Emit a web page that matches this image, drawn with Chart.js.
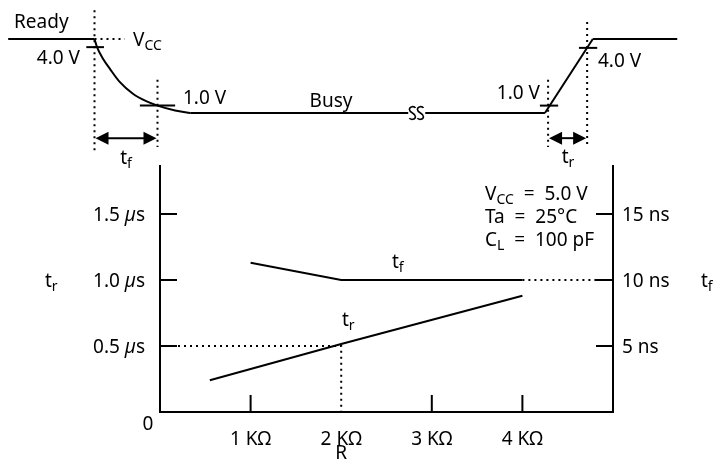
<!DOCTYPE html>
<html>
<head>
<meta charset="utf-8">
<script src="https://cdn.jsdelivr.net/npm/chart.js@4.4.1/dist/chart.umd.min.js"></script>
<style>
html, body { margin: 0; padding: 0; background: #fff; }
#wrap { position: relative; width: 727px; height: 464px; }
canvas { position: absolute; left: 0; top: 0; }
</style>
</head>
<body>
<div id="wrap">
  <canvas id="resChart" width="727" height="464"></canvas>
  <canvas id="waveChart" width="727" height="175"></canvas>
</div>
<script>
// ---- switching time vs pull-up R ----
const rTicks = [1, 2, 3, 4];
const rLabels = ['1 KΩ', '2 KΩ', '3 KΩ', '4 KΩ'];
const usTicks = [0.5, 1.0, 1.5];
const usLabels = ['0.5', '1.0', '1.5'];
const nsTicks = [5, 10, 15];
const nsLabels = ['5 ns', '10 ns', '15 ns'];

const trR = [0.55, 2.0, 4.0];      // KΩ
const trUs = [0.24, 0.515, 0.88];  // µs (left axis)
const tfR = [1.0, 2.0, 4.0];
const tfNs = [11.3, 10.0, 10.0];   // ns (right axis)
const tfExtR = [4.0, 5.0];
const tfExtNs = [10.0, 10.0];
const guideR = [0, 2, 2];
const guideUs = [0.5, 0.5, 0];

// ---- Ready/Busy waveform (time units, level 0 = low, 1 = high) ----
const highT = [1.3, 15.0];
const highL = [1, 1];
const fallT = [15.0, 15.4, 16.3, 17.5, 19.0, 21.1, 23.2, 25.0, 27.8, 30.2];
const fallL = [1.0, 0.89, 0.74, 0.59, 0.42, 0.26, 0.16, 0.10, 0.034, 0];
const busyT1 = [30.2, 64.8];
const busyT2 = [67.5, 86.5];
const busyL = [0, 0];
const riseT = [86.5, 94.1];
const riseL = [0, 1];
const readyT = [94.1, 107.5];
const readyL = [1, 1];
const markT = [[13.7, 16.5], [22.2, 27.8], [85.7, 88.6], [91.9, 94.8]];
const markL = [0.89, 0.10, 0.10, 0.88];
const edgeT = [15.0, 25.0, 87.0, 93.2];
const edgeTop = [1.39, 0.45, 0.45, 1.23];
const edgeBottom = [-0.54, -0.46, -0.46, -0.46];
const vccT = [15.0, 19.8];
const arrowL = -0.34;
const breakT = 66.1;

const FONT = '"Noto Sans", "DejaVu Sans", sans-serif';

function pts(xs, ys) {
  return xs.map((x, i) => ({ x: x, y: ys[i] }));
}

function line(data, extra) {
  return Object.assign({
    data: data, borderColor: '#000', borderWidth: 2, pointRadius: 0,
    tension: 0, fill: false, clip: false
  }, extra || {});
}

// parts: [text, 'n' | 's' (subscript) | 'i' (italic)]
function drawRich(ctx, parts, x, y, align) {
  const fonts = { n: '19px ' + FONT, s: '14px ' + FONT, i: 'italic 19px ' + FONT };
  let w = 0;
  parts.forEach(p => { ctx.font = fonts[p[1]]; w += ctx.measureText(p[0]).width; });
  let cx = align === 'right' ? x - w : align === 'center' ? x - w / 2 : x;
  ctx.fillStyle = '#000';
  ctx.textAlign = 'left';
  ctx.textBaseline = 'alphabetic';
  parts.forEach(p => {
    ctx.font = fonts[p[1]];
    ctx.fillText(p[0], cx, p[1] === 's' ? y + 4 : y);
    cx += ctx.measureText(p[0]).width;
  });
}

const resAxes = {
  id: 'resAxes',
  afterDatasetsDraw(chart) {
    const ctx = chart.ctx;
    const a = chart.chartArea;
    const x = chart.scales.x, yL = chart.scales.yL, yR = chart.scales.yR;
    ctx.save();
    ctx.strokeStyle = '#000';
    ctx.lineWidth = 2;
    ctx.beginPath();
    ctx.moveTo(a.left, a.top); ctx.lineTo(a.left, a.bottom);
    ctx.lineTo(a.right, a.bottom); ctx.lineTo(a.right, a.top);
    usTicks.forEach(v => {
      const py = yL.getPixelForValue(v);
      ctx.moveTo(a.left, py); ctx.lineTo(a.left + 17, py);
    });
    nsTicks.forEach(v => {
      const py = yR.getPixelForValue(v);
      ctx.moveTo(a.right - 17, py); ctx.lineTo(a.right, py);
    });
    rTicks.forEach(v => {
      if (v === 2) return; // dotted guide marks this one
      const px = x.getPixelForValue(v);
      ctx.moveTo(px, a.bottom); ctx.lineTo(px, a.bottom - 17);
    });
    ctx.stroke();

    usTicks.forEach((v, i) => {
      drawRich(ctx, [[usLabels[i] + ' ', 'n'], ['µ', 'i'], ['s', 'n']], a.left - 15, yL.getPixelForValue(v) + 7, 'right');
    });
    nsTicks.forEach((v, i) => {
      drawRich(ctx, [[nsLabels[i], 'n']], a.right + 9, yR.getPixelForValue(v) + 7, 'left');
    });
    rTicks.forEach((v, i) => {
      drawRich(ctx, [[rLabels[i], 'n']], x.getPixelForValue(v), a.bottom + 33, 'center');
    });
    drawRich(ctx, [['0', 'n']], a.left - 12, a.bottom + 18, 'center');
    drawRich(ctx, [['R', 'n']], x.getPixelForValue(2), a.bottom + 47, 'center');
    drawRich(ctx, [['t', 'n'], ['r', 's']], 45, 287, 'left');
    drawRich(ctx, [['t', 'n'], ['f', 's']], 701, 287, 'left');
    drawRich(ctx, [['t', 'n'], ['f', 's']], 392, 268, 'left');
    drawRich(ctx, [['t', 'n'], ['r', 's']], 342, 326, 'left');
    drawRich(ctx, [['V', 'n'], ['CC', 's'], ['  =  5.0 V', 'n']], 485, 200, 'left');
    drawRich(ctx, [['Ta  =  25°C', 'n']], 485, 223, 'left');
    drawRich(ctx, [['C', 'n'], ['L', 's'], ['  =  100 pF', 'n']], 485, 246, 'left');
    ctx.restore();
  }
};

new Chart(document.getElementById('resChart'), {
  type: 'line',
  data: {
    datasets: [
      line(pts(trR, trUs), { yAxisID: 'yL' }),
      line(pts(tfR, tfNs), { yAxisID: 'yR' }),
      line(pts(tfExtR, tfExtNs), { yAxisID: 'yR', borderDash: [2, 4] }),
      line(pts(guideR, guideUs), { yAxisID: 'yL', borderDash: [2, 4] })
    ]
  },
  options: {
    responsive: false,
    animation: false,
    devicePixelRatio: 1,
    layout: { padding: { left: 160, right: 114, top: 165, bottom: 52 } },
    plugins: { legend: { display: false }, tooltip: { enabled: false } },
    scales: {
      x: { type: 'linear', display: false, min: 0, max: 5 },
      yL: { type: 'linear', display: false, min: 0, max: 1.871, position: 'left' },
      yR: { type: 'linear', display: false, min: 0, max: 18.71, position: 'right' }
    }
  },
  plugins: [resAxes]
});

const waveLabels = {
  id: 'waveLabels',
  afterDatasetsDraw(chart) {
    const ctx = chart.ctx;
    const x = chart.scales.x, y = chart.scales.y;
    ctx.save();
    // double arrows for tf and tr
    const ay = y.getPixelForValue(arrowL);
    [[edgeT[0], edgeT[1]], [edgeT[2], edgeT[3]]].forEach(p => {
      const x1 = x.getPixelForValue(p[0]) + 1, x2 = x.getPixelForValue(p[1]) - 1;
      ctx.strokeStyle = '#000'; ctx.lineWidth = 2;
      ctx.beginPath(); ctx.moveTo(x1 + 6, ay); ctx.lineTo(x2 - 6, ay); ctx.stroke();
      ctx.fillStyle = '#000';
      ctx.beginPath(); ctx.moveTo(x1, ay); ctx.lineTo(x1 + 13, ay - 6.5); ctx.lineTo(x1 + 13, ay + 6.5); ctx.closePath(); ctx.fill();
      ctx.beginPath(); ctx.moveTo(x2, ay); ctx.lineTo(x2 - 13, ay - 6.5); ctx.lineTo(x2 - 13, ay + 6.5); ctx.closePath(); ctx.fill();
    });
    // break mark on the busy line
    const bx = x.getPixelForValue(breakT), by = y.getPixelForValue(0);
    ctx.lineWidth = 1.6;
    [-4, 4].forEach(d => {
      const cx = bx + d, w = 6, h = 14;
      ctx.beginPath();
      ctx.moveTo(cx + w / 2, by - h / 2 + 2);
      ctx.bezierCurveTo(cx + w / 2 - 1, by - h / 2, cx - w / 2, by - h / 2, cx - w / 2, by - h / 4);
      ctx.bezierCurveTo(cx - w / 2, by, cx + w / 2, by, cx + w / 2, by + h / 4);
      ctx.bezierCurveTo(cx + w / 2, by + h / 2, cx - w / 2 + 1, by + h / 2, cx - w / 2, by + h / 2 - 2);
      ctx.stroke();
    });
    drawRich(ctx, [['Ready', 'n']], 14, 28, 'left');
    drawRich(ctx, [['4.0 V', 'n']], 80, 64, 'right');
    drawRich(ctx, [['V', 'n'], ['CC', 's']], 133, 46, 'left');
    drawRich(ctx, [['1.0 V', 'n']], 183, 104, 'left');
    drawRich(ctx, [['Busy', 'n']], 331, 107, 'center');
    drawRich(ctx, [['1.0 V', 'n']], 540, 99, 'right');
    drawRich(ctx, [['4.0 V', 'n']], 598, 67, 'left');
    drawRich(ctx, [['t', 'n'], ['f', 's']], 126, 164, 'center');
    drawRich(ctx, [['t', 'n'], ['r', 's']], 568, 163, 'center');
    ctx.restore();
  }
};

const waveSets = [
  line(pts(highT, highL)),
  line(pts(fallT, fallL), { cubicInterpolationMode: 'monotone' }),
  line(pts(busyT1, busyL)),
  line(pts(busyT2, busyL)),
  line(pts(riseT, riseL)),
  line(pts(readyT, readyL)),
  line(pts(vccT, [1, 1]), { borderDash: [2, 4] })
];
markT.forEach((m, i) => waveSets.push(line(pts(m, [markL[i], markL[i]]))));
edgeT.forEach((t, i) => waveSets.push(line(pts([t, t], [edgeTop[i], edgeBottom[i]]), { borderDash: [2, 4] })));

new Chart(document.getElementById('waveChart'), {
  type: 'line',
  data: { datasets: waveSets },
  options: {
    responsive: false,
    animation: false,
    devicePixelRatio: 1,
    layout: { padding: { left: 0, right: 0, top: 39, bottom: 62 } },
    plugins: { legend: { display: false }, tooltip: { enabled: false } },
    scales: {
      x: { type: 'linear', display: false, min: 0, max: 115.4 },
      y: { type: 'linear', display: false, min: 0, max: 1 }
    }
  },
  plugins: [waveLabels]
});
</script>
</body>
</html>
